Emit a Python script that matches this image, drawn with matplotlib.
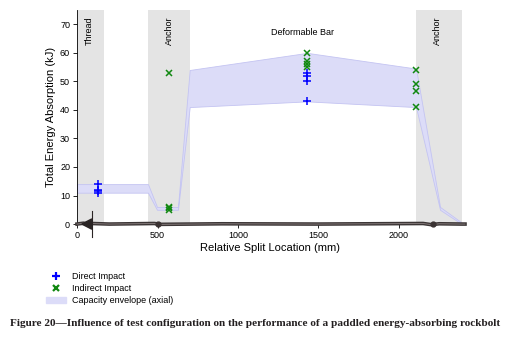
import numpy as np
import matplotlib.pyplot as plt
from matplotlib.patches import Patch
from matplotlib.lines import Line2D

plt.rcParams['font.family'] = ['Liberation Sans', 'DejaVu Sans']

### data ###
env_x     = [0, 441, 497, 627, 700, 1430, 2106, 2255, 2390]
env_upper = [14, 14, 6, 6, 54, 60, 54.5, 6, 0.5]
env_lower = [11, 11, 5, 5, 41, 43, 41, 5, 0]

direct_x = [130, 130, 130, 130, 1430, 1430, 1430, 1430]
direct_y = [14, 12, 11.5, 11, 53, 52, 50, 43]

indirect_x = [572, 572, 572, 572, 1430, 1430, 1430, 1430, 2106, 2106, 2106, 2106]
indirect_y = [53, 6, 5.5, 5, 60, 57, 56, 55, 54, 49, 46.5, 41]

# zones along the bolt
zone_start = [0, 441, 2106]
zone_end   = [168, 702, 2391]
zone_label = ['Thread', 'Anchor', 'Anchor']
zone_lab_x = [75, 572, 2242]

# recorded trace along the bar (drawn near zero)
trace_x = [0, 40, 80, 90, 200, 480, 520, 900, 1500, 2150, 2200, 2250, 2390, 2410]
trace_y = [0, 0.3, -0.2, 0.2, 0, 0.2, -0.1, 0.1, 0, 0.2, -0.2, 0.1, 0, 0]

fig = plt.figure(figsize=(5.1, 3.4), dpi=100)
ax = fig.add_axes([0.151, 0.341, 0.7576, 0.6294])

for s, e in zip(zone_start, zone_end):
    ax.axvspan(s, e, color='#e4e4e4', lw=0, zorder=0)
for lx, lab in zip(zone_lab_x, zone_label):
    ax.text(lx, 72.8, lab, rotation=90, ha='center', va='top', fontsize=6.5)
ax.text(1398, 67.1, 'Deformable Bar', ha='center', va='center', fontsize=6.5)

ax.fill_between(env_x, env_lower, env_upper, facecolor='#dcdcf8',
                edgecolor='#c4c4f2', lw=0.6, zorder=1)

# trace at zero
ax.plot(trace_x, trace_y, color='#3c3636', lw=2.6, zorder=3, clip_on=False)
ax.plot(trace_x, trace_y, color='#8a8080', lw=0.6, zorder=3, clip_on=False)
ax.fill([30, 92, 92], [0, 1.8, -1.8], color='#2a2424', zorder=3, clip_on=False)
ax.plot([92, 92], [-4.5, 4.5], color='#2a2424', lw=0.8, zorder=3, clip_on=False)
ax.plot([500, 2210], [0, 0], 'o', color='#3a3232', ms=3.5, zorder=3, clip_on=False)

ax.plot(direct_x, direct_y, '+', color='#0000ff', ms=6, mew=1.1, zorder=4)
ax.plot(indirect_x, indirect_y, 'x', color='#118811', ms=5, mew=1.1, zorder=4)

ax.set_xlim(0, 2400)
ax.set_ylim(0, 75)
ax.set_xticks([0, 500, 1000, 1500, 2000])
ax.set_yticks([0, 10, 20, 30, 40, 50, 60, 70])
ax.tick_params(labelsize=6.5, length=3, width=0.6, pad=2)
ax.spines['top'].set_visible(False)
ax.spines['right'].set_visible(False)
ax.spines['bottom'].set_visible(False)
ax.spines['left'].set_linewidth(0.6)
ax.set_xlabel('Relative Split Location (mm)', fontsize=8, labelpad=2)
ax.set_ylabel('Total Energy Absorption (kJ)', fontsize=8, labelpad=3)

handles = [Line2D([], [], ls='none', marker='+', color='#0000ff', ms=6, mew=1.6),
           Line2D([], [], ls='none', marker='x', color='#118811', ms=5, mew=1.6),
           Patch(facecolor='#dcdcf8', edgecolor='#dcdcf8')]
fig.legend(handles, ['Direct Impact', 'Indirect Impact', 'Capacity envelope (axial)'],
           loc='upper left', bbox_to_anchor=(0.075, 0.224), frameon=False,
           fontsize=6.5, handlelength=2.2, handletextpad=0.6, labelspacing=0.35)

fig.text(0.5, 0.05, 'Figure 20\u2014Influence of test configuration on the performance of a paddled energy-absorbing rockbolt',
         ha='center', va='center', fontsize=8.1, fontweight='bold',
         family=['Liberation Serif', 'DejaVu Serif'], color='#231f20')

fig.savefig('out.png', dpi=100)
